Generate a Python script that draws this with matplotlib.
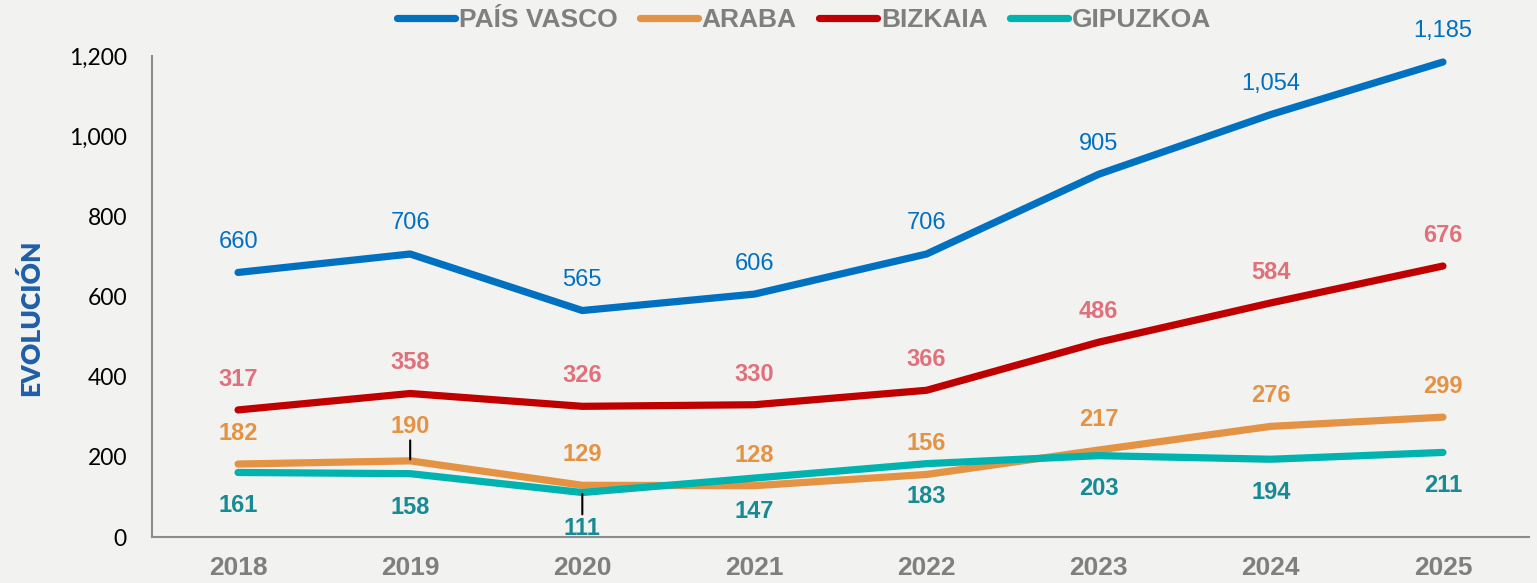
import matplotlib
matplotlib.use("Agg")
import matplotlib.pyplot as plt

years = ["2018", "2019", "2020", "2021", "2022", "2023", "2024", "2025"]
pais_vasco = [660, 706, 565, 606, 706, 905, 1054, 1185]
araba = [182, 190, 129, 128, 156, 217, 276, 299]
bizkaia = [317, 358, 326, 330, 366, 486, 584, 676]
gipuzkoa = [161, 158, 111, 147, 183, 203, 194, 211]

BG = "#F2F2F0"
fig = plt.figure(figsize=(15.37, 5.83), dpi=100, facecolor=BG)
ax = fig.add_axes([152/1537, 1 - 537/583, (1529-152)/1537, (537-56)/583])
ax.set_facecolor(BG)

x = list(range(len(years)))
series = [
    ("PAÍS VASCO", pais_vasco, "#0070C0", "#0070C0", "normal", 1),
    ("ARABA", araba, "#E39343", "#E39343", "bold", 1),
    ("BIZKAIA", bizkaia, "#C00000", "#E0707A", "bold", 1),
    ("GIPUZKOA", gipuzkoa, "#00B3AE", "#178A93", "bold", -1),
]
lines = []
for name, vals, col, lcol, w, d in series:
    ln, = ax.plot(x, vals, color=col, lw=5.2, solid_capstyle="round",
                  solid_joinstyle="round", label=name, zorder=3)
    lines.append(ln)

for name, vals, col, lcol, w, d in series:
    for i, v in enumerate(vals):
        lab = f"{v:,}"
        off = 22 if d > 0 else -24
        arrow = None
        if name == "ARABA" and i == 1:
            off = 25
            arrow = dict(arrowstyle="-", color="black", lw=1.5, shrinkA=0, shrinkB=1)
        if name == "GIPUZKOA" and i == 2:
            off = -26
            arrow = dict(arrowstyle="-", color="black", lw=1.5, shrinkA=0, shrinkB=1)
        ax.annotate(lab, (i, v), xytext=(0, off), textcoords="offset points",
                    ha="center", va="center", fontsize=17, fontweight=w,
                    color=lcol, family="Liberation Sans", arrowprops=arrow,
                    zorder=4)

ax.set_xlim(-0.5, 7.5)
ax.set_ylim(0, 1200)
ax.set_yticks(range(0, 1201, 200))
ax.set_yticklabels([f"{t:,}" for t in range(0, 1201, 200)], family="Lato",
                   fontsize=16.5, color="black")
ax.set_xticks(x)
ax.set_xticklabels(years, family="Liberation Sans", fontsize=19,
                   fontweight="bold", color="#7F7F7F")
ax.tick_params(axis="y", length=0, pad=18)
ax.tick_params(axis="x", length=0, pad=14)
for s in ["top", "right"]:
    ax.spines[s].set_visible(False)
for s in ["left", "bottom"]:
    ax.spines[s].set_color("#8C8C8C")
    ax.spines[s].set_linewidth(1.5)

fig.text(31/1537, 1 - 318/583, "EVOLUCIÓN", rotation=90, ha="center",
         va="center", fontsize=19, fontweight="heavy", color="#1F5FA8",
         family="Lato")

leg = fig.legend(handles=lines, loc="center", bbox_to_anchor=(804/1537, 1 - 20/583),
                 ncol=4, frameon=False, handlelength=2.2, handletextpad=0.15,
                 columnspacing=0.85,
                 prop={"family": "Liberation Sans", "weight": "bold", "size": 19})
for t in leg.get_texts():
    t.set_color("#7F7F7F")

fig.savefig("out.png", dpi=100, facecolor=BG)
